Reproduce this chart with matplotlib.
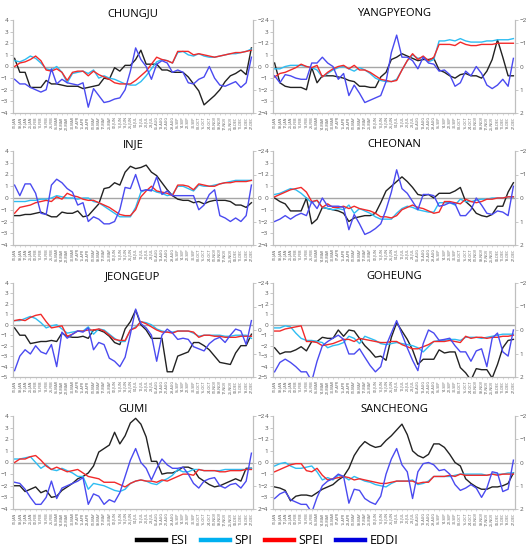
import numpy as np
import matplotlib
matplotlib.use('Agg')
import matplotlib.pyplot as plt
from matplotlib.lines import Line2D

plt.rcParams['font.family'] = ['Open Sans', 'DejaVu Sans']

# 8-day periods (one year)
DATES = ['01-JAN', '09-JAN', '17-JAN', '25-JAN', '02-FEB', '10-FEB', '18-FEB', '26-FEB',
         '06-MAR', '14-MAR', '22-MAR', '30-MAR', '07-APR', '15-APR', '23-APR', '01-MAY',
         '09-MAY', '17-MAY', '25-MAY', '02-JUN', '10-JUN', '18-JUN', '26-JUN', '04-JUL',
         '12-JUL', '20-JUL', '28-JUL', '05-AUG', '13-AUG', '21-AUG', '29-AUG', '06-SEP',
         '14-SEP', '22-SEP', '30-SEP', '08-OCT', '16-OCT', '24-OCT', '01-NOV', '09-NOV',
         '17-NOV', '25-NOV', '03-DEC', '11-DEC', '19-DEC', '27-DEC']

# ----------------------------------------------------------------------
# values. ESI/SPI/SPEI on the left axis,
# EDDI on the right (inverted) axis
CHUNGJU_ESI = [0.7, -0.5, -0.5, -1.8, -1.8, -1.8, -1.2, -1.5, -1.5, -1.6,
               -1.7, -1.7, -1.7, -1.9, -1.8, -1.7, -1.6, -1.0, -1.1, -0.1,
               -0.4, 0.1, 0.1, 0.6, 1.4, 0.2, 0.2, 0.2, -0.3, -0.3,
               -0.5, -0.5, -0.5, -0.9, -1.5, -2.1, -3.3, -2.9, -2.5, -2.0,
               -1.3, -0.8, -0.6, -0.3, -0.7, 1.6]
CHUNGJU_SPI = [0.5, 0.4, 0.6, 0.9, 0.7, 0.3, -0.2, -0.3, 0.0, -0.5,
               -1.4, -0.6, -0.5, -0.4, -0.6, -0.3, -1.0, -0.8, -1.0, -1.1,
               -1.3, -1.5, -1.6, -1.6, -1.3, -0.8, -0.2, 0.4, 0.6, 0.5,
               0.3, 1.2, 1.3, 1.0, 0.9, 1.1, 0.9, 0.8, 0.8, 0.9,
               1.0, 1.1, 1.1, 1.2, 1.3, 1.5]
CHUNGJU_SPEI = [0.0, 0.3, 0.4, 0.6, 0.9, 0.5, -0.3, -0.4, -0.2, -0.5,
                -1.2, -0.5, -0.4, -0.4, -0.8, -0.4, -0.7, -0.9, -1.1, -1.4,
                -1.5, -1.5, -1.5, -1.2, -0.8, -0.4, 0.2, 0.8, 0.6, 0.5,
                0.3, 1.3, 1.3, 1.3, 1.0, 1.1, 1.0, 0.9, 0.8, 0.9,
                1.0, 1.1, 1.2, 1.2, 1.3, 1.4]
CHUNGJU_EDDI = [0.55, 0.75, 0.75, 0.9, 1.0, 1.1, 1.0, 0.1, 0.75, 0.55,
                0.7, 0.75, 0.8, 0.7, 1.75, 0.95, 1.25, 1.55, 1.5, 1.4,
                1.35, 1.0, 0.2, -0.8, -0.3, 0.0, 0.55, -0.1, -0.25, -0.15,
                0.25, 0.15, 0.25, 0.7, 0.75, 0.55, 0.45, 0.0, 0.5, 0.8,
                0.85, 0.75, 0.65, 0.9, 0.7, -0.4]

YANGPYEONG_ESI = [0.3, -1.4, -1.7, -1.8, -1.8, -1.8, -2.0, -0.1, -1.4, -0.8,
                  -0.8, -0.8, -0.9, -1.0, -1.2, -1.3, -1.7, -1.7, -1.8, -1.8,
                  -0.9, -0.5, 0.6, 0.8, 1.1, 0.9, 0.7, 0.5, 0.6, 0.6,
                  0.7, -0.3, -0.5, -0.8, -1.0, -0.7, -0.6, -0.8, -0.8, -1.0,
                  -0.4, 0.6, 2.3, 0.8, -0.8, -0.8]
YANGPYEONG_SPI = [-0.2, -0.2, 0.0, 0.1, 0.1, 0.1, 0.0, -0.1, -0.3, -0.9,
                  -0.6, -0.3, -0.1, 0.0, -0.2, -0.4, -0.1, -0.3, -0.6, -1.0,
                  -1.2, -1.3, -1.3, -1.1, -0.3, 0.5, 1.0, 0.7, 0.8, 0.4,
                  0.6, 2.2, 2.2, 2.3, 2.2, 2.4, 2.2, 2.1, 2.1, 2.1,
                  2.2, 2.2, 2.3, 2.3, 2.3, 2.4]
YANGPYEONG_SPEI = [-0.9, -0.6, -0.5, -0.3, -0.1, 0.2, 0.0, -0.1, 0.1, -0.9,
                   -0.5, -0.2, 0.0, 0.1, -0.2, 0.1, -0.3, -0.3, -0.5, -0.8,
                   -1.1, -1.2, -1.3, -1.2, -0.3, 0.5, 1.1, 0.6, 0.9, 0.5,
                   0.8, 1.9, 1.9, 1.9, 1.8, 2.1, 1.9, 1.8, 1.8, 1.9,
                   1.9, 1.9, 2.0, 2.0, 2.0, 2.0]
YANGPYEONG_EDDI = [0.4, 0.7, 0.35, 0.4, 0.5, 0.55, 0.55, -0.15, -0.15, -0.4,
                   -0.15, 0.0, 0.55, 0.3, 1.25, 0.8, 1.15, 1.55, 1.45, 1.35,
                   1.25, 0.65, -0.6, -1.35, -0.4, -0.4, -0.25, 0.1, -0.4, -0.15,
                   -0.1, 0.2, 0.15, 0.35, 0.85, 0.7, 0.2, 0.4, 0.0, 0.3,
                   0.8, 0.95, 0.8, 0.55, 0.85, -0.35]

INJE_ESI = [-1.5, -1.5, -1.4, -1.4, -1.3, -1.2, -1.4, -1.6, -1.6, -1.2,
            -1.3, -1.3, -1.1, -1.6, -1.5, -1.0, -0.5, 0.8, 0.9, 1.3,
            1.1, 2.2, 2.7, 2.5, 2.6, 2.8, 2.2, 1.9, 1.3, 0.7,
            0.2, -0.1, -0.2, -0.2, -0.4, -0.3, -0.5, -0.3, -0.2, -0.2,
            -0.2, -0.3, -0.6, -0.6, -0.8, -0.4]
INJE_SPI = [-0.3, -0.3, -0.3, -0.2, -0.2, -0.1, -0.1, 0.0, 0.2, 0.1,
            0.0, 0.0, -0.1, 0.0, 0.0, -0.3, -0.4, -0.7, -1.0, -1.3,
            -1.6, -1.6, -1.6, -0.8, 0.5, 0.7, 0.7, 0.5, 0.4, 0.2,
            0.3, 1.0, 1.0, 0.8, 0.6, 1.1, 1.0, 1.0, 1.1, 1.2,
            1.3, 1.4, 1.5, 1.5, 1.5, 1.5]
INJE_SPEI = [-1.3, -0.8, -0.7, -0.6, -0.4, -0.3, -0.2, -0.3, 0.1, -0.1,
             0.4, 0.2, 0.1, -0.1, -0.2, -0.2, -0.4, -0.6, -0.8, -1.1,
             -1.4, -1.5, -1.5, -1.0, 0.1, 0.6, 1.0, 0.6, 0.5, 0.4,
             0.2, 1.1, 1.1, 1.0, 0.7, 1.2, 1.1, 1.0, 1.0, 1.2,
             1.3, 1.3, 1.4, 1.4, 1.4, 1.5]
INJE_EDDI = [-0.55, -0.1, -0.6, -0.6, -0.2, 0.65, 0.7, -0.55, -0.8, -0.65,
             -0.4, -0.25, 0.3, 0.2, 1.0, 0.8, 0.9, 1.1, 1.1, 1.0,
             0.5, -0.45, -0.4, -1.0, -0.3, -0.35, -0.3, -0.9, -0.15, -0.3,
             -0.1, -0.1, -0.1, -0.1, -0.1, 0.5, 0.3, -0.15, -0.35, 0.75,
             0.85, 1.0, 0.85, 1.0, 0.75, -0.55]

CHEONAN_ESI = [0.0, -0.3, -0.5, -1.1, -1.1, -1.1, 0.0, -2.2, -1.8, -0.8,
               -0.9, -1.0, -1.1, -1.3, -2.0, -1.7, -1.6, -1.5, -1.5, -1.3,
               -0.4, 0.6, 1.0, 1.4, 1.8, 1.4, 0.9, 0.3, 0.2, 0.3,
               0.0, 0.4, 0.4, 0.4, 0.6, 0.9, -0.3, -0.7, -1.3, -1.5,
               -1.6, -1.4, -0.7, -0.7, 0.5, 1.3]
CHEONAN_SPI = [0.3, 0.4, 0.6, 0.8, 0.7, 0.4, 0.0, -0.4, -0.2, -0.8,
               -0.9, -1.0, -0.9, -1.0, -0.6, -1.3, -0.9, -1.1, -1.3, -1.6,
               -1.8, -1.8, -1.8, -1.3, -0.9, -0.7, -0.8, -1.0, -1.1, -1.2,
               -1.2, -0.4, -0.4, -0.4, -0.6, -0.1, -0.3, -0.3, -0.2, -0.1,
               -0.1, 0.0, 0.0, 0.0, 0.1, 0.1]
CHEONAN_SPEI = [0.1, 0.3, 0.5, 0.7, 0.8, 0.9, 0.5, -0.3, -0.2, -0.8,
                -0.5, -0.8, -0.8, -0.7, -0.9, -0.7, -0.9, -1.0, -1.1, -1.3,
                -1.6, -1.6, -1.7, -1.5, -1.0, -0.8, -0.6, -0.8, -0.9, -1.1,
                -1.3, -1.2, -0.3, -0.3, -0.4, -0.5, -0.1, -0.3, -0.4, -0.3,
                -0.1, -0.1, 0.0, 0.0, 0.1, 0.1]
CHEONAN_EDDI = [1.0, 0.9, 0.75, 0.9, 0.75, 0.65, 0.75, 0.15, 0.45, 0.0,
                0.35, 0.35, 0.35, 0.4, 1.35, 0.7, 1.1, 1.55, 1.45, 1.3,
                1.1, 0.5, -0.25, -1.2, -0.4, -0.2, 0.15, 0.5, -0.15, -0.15,
                -0.1, 0.35, 0.3, 0.2, 0.25, 0.75, 0.75, 0.5, 0.0, 0.3,
                0.65, 0.7, 0.55, 0.6, 0.75, -0.5]

JEONGEUP_ESI = [-0.3, -1.0, -1.0, -1.8, -1.7, -1.6, -1.6, -1.5, -1.6, -0.8,
                -1.1, -1.2, -1.2, -1.1, -1.3, -0.5, -0.5, -0.7, -1.1, -1.7,
                -1.9, -0.4, 0.3, 1.4, 0.0, -0.5, -1.3, -1.3, -1.3, -4.5,
                -4.5, -3.0, -2.8, -2.6, -1.7, -1.7, -2.0, -2.4, -3.0, -3.6,
                -3.7, -3.8, -2.7, -2.0, -2.0, -0.9]
JEONGEUP_SPI = [0.4, 0.4, 0.6, 0.8, 0.6, 0.2, -0.3, -0.1, 0.0, -0.4,
                -0.8, -0.7, -0.6, -0.6, -0.2, -0.9, -0.4, -0.5, -0.9, -1.3,
                -1.6, -1.6, -0.5, -0.2, 0.3, 0.2, 0.0, -0.4, -0.6, -0.7,
                -0.7, -0.6, -0.6, -0.6, -0.8, -1.1, -1.0, -1.0, -1.0, -1.0,
                -1.1, -1.1, -1.0, -1.0, -1.0, -1.3]
JEONGEUP_SPEI = [0.4, 0.5, 0.4, 0.7, 0.9, 1.0, 0.3, -0.3, -0.2, -0.1,
                 -1.1, -0.9, -0.6, -0.6, -0.5, -0.5, -0.4, -0.6, -1.0, -1.4,
                 -1.5, -1.5, -0.5, -0.3, 0.3, 0.1, -0.2, -0.5, -0.7, -0.7,
                 -0.8, -0.6, -0.6, -0.6, -0.7, -1.2, -1.0, -1.0, -1.1, -1.1,
                 -1.2, -1.2, -1.2, -1.1, -1.1, -1.1]
JEONGEUP_EDDI = [1.73, 1.11, 0.84, 1.02, 0.67, 0.93, 1.02, 0.62, 1.56, 0.09,
                 0.35, 0.18, 0.04, 0.09, -0.09, 0.84, 0.53, 0.62, 1.2, 1.33,
                 1.56, 1.16, 0.18, -0.89, -0.27, -0.09, 0.22, 1.33, 0.22, -0.04,
                 0.13, 0.4, 0.35, 0.4, 0.71, 0.8, 0.89, 0.58, 0.4, 0.31,
                 0.53, 0.22, -0.04, 0.04, 0.62, -0.4]

GOHEUNG_ESI = [-2.2, -2.8, -2.6, -2.6, -2.4, -2.1, -2.5, -1.6, -1.6, -1.2,
               -1.3, -1.3, -0.5, -1.1, -0.5, -0.6, -1.3, -2.0, -2.5, -3.1,
               -3.0, -3.4, -1.2, 0.2, -0.6, -1.4, -2.4, -3.8, -3.3, -3.3,
               -3.3, -2.4, -2.7, -2.6, -2.6, -4.1, -4.6, -5.3, -4.2, -4.3,
               -4.3, -5.1, -3.8, -2.2, -1.5, -1.4]
GOHEUNG_SPI = [-0.3, -0.3, -0.1, -0.2, -0.8, -1.3, -1.5, -1.5, -1.6, -1.7,
               -2.2, -2.0, -1.9, -1.7, -1.1, -1.3, -1.8, -1.1, -1.3, -1.5,
               -1.8, -1.9, -1.8, -1.7, -1.8, -1.9, -2.0, -2.2, -2.6, -2.1,
               -1.6, -1.5, -1.5, -1.4, -1.4, -1.5, -1.2, -1.2, -1.2, -1.3,
               -1.2, -1.1, -1.0, -0.9, -0.9, -0.9]
GOHEUNG_SPEI = [-0.6, -0.6, -0.4, -0.3, -0.2, -0.1, -1.6, -1.6, -1.7, -2.0,
                -1.9, -1.8, -1.6, -1.4, -1.4, -1.6, -1.3, -1.4, -1.5, -1.6,
                -1.7, -1.7, -1.6, -1.6, -1.9, -2.1, -2.3, -2.3, -2.1, -1.9,
                -1.6, -1.6, -1.6, -1.5, -1.6, -1.7, -1.1, -1.3, -1.2, -1.2,
                -1.3, -1.2, -1.2, -1.1, -1.1, -1.0]
GOHEUNG_EDDI = [1.78, 1.38, 1.24, 1.38, 1.56, 1.78, 1.78, 2.18, 1.33, 0.67,
                0.49, 0.35, 0.22, 0.4, 1.02, 1.02, 0.8, 1.16, 1.51, 1.78,
                1.56, 0.67, 0.13, -0.4, 0.18, 0.76, 1.29, 1.73, 0.58, 0.0,
                0.13, 0.44, 0.4, 0.35, 0.67, 0.93, 0.93, 1.33, 0.89, 0.8,
                1.56, 0.35, 0.13, 0.93, 1.11, 0.0]

GUMI_ESI = [-2.0, -2.0, -2.5, -2.3, -2.1, -2.6, -2.4, -3.0, -2.9, -2.4,
            -2.1, -1.8, -1.4, -1.2, -0.9, -0.3, 0.9, 1.2, 1.5, 2.6,
            1.6, 2.3, 3.4, 3.8, 3.3, 2.2, 0.1, 0.1, -1.0, -0.9,
            -0.9, -0.7, -0.4, -0.4, -0.6, -1.3, -1.6, -1.9, -2.1, -2.0,
            -1.8, -1.6, -1.4, -1.6, -0.5, -0.5]
GUMI_SPI = [0.3, 0.3, 0.4, 0.5, 0.0, -0.5, -0.2, -0.6, -0.7, -0.5,
            -0.7, -0.9, -1.2, -1.2, -2.3, -1.8, -1.9, -2.0, -2.2, -2.4,
            -2.5, -2.3, -1.8, -1.6, -1.5, -1.6, -1.8, -1.9, -1.6, -1.4,
            -1.1, -0.6, -0.8, -0.8, -0.6, -0.6, -0.7, -0.7, -0.7, -0.7,
            -0.6, -0.6, -0.6, -0.6, -0.6, -0.5]
GUMI_SPEI = [0.0, 0.3, 0.3, 0.5, 0.6, 0.2, -0.3, -0.6, -0.4, -0.6,
             -0.8, -0.7, -0.6, -0.9, -1.2, -1.3, -1.4, -1.7, -1.7, -1.7,
             -1.9, -2.1, -1.8, -1.6, -1.5, -1.6, -1.6, -1.7, -1.5, -1.6,
             -1.4, -1.2, -1.0, -1.0, -1.1, -0.6, -0.7, -0.7, -0.7, -0.8,
             -0.8, -0.7, -0.7, -0.7, -0.6, -0.6]
GUMI_EDDI = [0.85, 0.9, 1.15, 1.5, 1.8, 1.8, 1.5, 0.8, 1.55, 1.1,
             1.0, 0.9, 0.8, 0.65, 1.8, 1.35, 1.45, 1.8, 1.6, 1.7,
             1.3, 0.6, -0.1, -0.6, 0.0, 0.25, 0.75, 0.25, -0.15, 0.1,
             0.25, 0.25, 0.2, 0.5, 0.9, 1.1, 0.8, 0.7, 0.65, 1.0,
             1.1, 0.95, 0.9, 1.1, 0.8, -0.4]

SANCHEONG_ESI = [-2.1, -2.2, -2.4, -3.3, -2.9, -2.8, -2.8, -2.9, -2.6, -2.3,
                 -2.1, -1.9, -1.5, -1.2, -0.5, 0.6, 1.3, 1.8, 1.5, 1.3,
                 1.4, 1.9, 2.3, 2.8, 3.3, 2.4, 1.0, 0.6, 0.4, 0.7,
                 1.6, 1.6, 1.3, 0.7, 0.0, -0.3, -1.4, -1.8, -2.1, -2.3,
                 -2.3, -2.1, -2.1, -2.0, -1.8, -0.9]
SANCHEONG_SPI = [-0.3, -0.1, 0.0, -0.3, -0.5, -0.5, -0.4, -0.3, -0.8, -1.5,
                 -1.3, -1.5, -1.1, -1.2, -1.5, -1.2, -1.4, -1.6, -1.7, -1.9,
                 -2.0, -2.1, -1.8, -1.6, -1.6, -1.6, -1.5, -1.9, -1.8, -1.6,
                 -1.2, -1.2, -1.2, -1.2, -1.1, -1.0, -1.0, -1.0, -1.0, -1.0,
                 -1.1, -1.0, -1.0, -1.0, -0.9, -0.9]
SANCHEONG_SPEI = [-0.8, -0.6, -0.4, -0.2, -0.1, -0.1, -0.7, -0.8, -0.5, -1.1,
                  -1.5, -1.4, -1.3, -1.2, -1.3, -1.5, -1.4, -1.5, -1.6, -1.7,
                  -1.8, -1.8, -1.7, -1.6, -1.6, -1.6, -1.6, -1.8, -1.7, -1.7,
                  -1.2, -1.2, -1.2, -1.1, -1.2, -1.0, -1.1, -1.1, -1.1, -1.1,
                  -1.1, -1.0, -1.1, -1.0, -1.0, -1.0]
SANCHEONG_EDDI = [1.55, 1.35, 1.25, 1.6, 1.7, 1.8, 1.8, 2.15, 1.5, 1.0,
                  0.8, 0.7, 0.5, 0.6, 1.75, 1.15, 1.2, 1.55, 1.7, 1.8,
                  1.45, 0.5, -0.15, -0.6, 0.1, 0.4, 1.55, 0.4, 0.05, 0.0,
                  0.1, 0.35, 0.3, 0.5, 0.95, 1.2, 1.1, 0.95, 1.1, 1.5,
                  1.1, 0.4, 0.45, 1.25, 1.15, -0.1]

STATIONS = [
    ('CHUNGJU', CHUNGJU_ESI, CHUNGJU_SPI, CHUNGJU_SPEI, CHUNGJU_EDDI),
    ('YANGPYEONG', YANGPYEONG_ESI, YANGPYEONG_SPI, YANGPYEONG_SPEI, YANGPYEONG_EDDI),
    ('INJE', INJE_ESI, INJE_SPI, INJE_SPEI, INJE_EDDI),
    ('CHEONAN', CHEONAN_ESI, CHEONAN_SPI, CHEONAN_SPEI, CHEONAN_EDDI),
    ('JEONGEUP', JEONGEUP_ESI, JEONGEUP_SPI, JEONGEUP_SPEI, JEONGEUP_EDDI),
    ('GOHEUNG', GOHEUNG_ESI, GOHEUNG_SPI, GOHEUNG_SPEI, GOHEUNG_EDDI),
    ('GUMI', GUMI_ESI, GUMI_SPI, GUMI_SPEI, GUMI_EDDI),
    ('SANCHEONG', SANCHEONG_ESI, SANCHEONG_SPI, SANCHEONG_SPEI, SANCHEONG_EDDI),
]

# ----------------------------------------------------------------------
W, H = 529, 551
C_ESI = '#222222'
C_SPI = '#2ebdf2'
C_SPEI = '#f22a2a'
C_EDDI = '#4a4af0'
GREY = '#a6a6a6'
TXT = '#595959'

# plot boxes in pixels (left, right) / (top, bottom)
COLS = [(13, 253), (273, 515)]
ROWS = [(20, 113), (151, 245), (283, 377), (416, 509)]
LOW_LIMIT = {'JEONGEUP': -5, 'GOHEUNG': -5}

fig = plt.figure(figsize=(W / 100, H / 100), dpi=100)


def pixel_axes(left, right, top, bottom):
    return fig.add_axes([left / W, 1 - bottom / H,
                         (right - left) / W, (bottom - top) / H])


for k, (name, esi, spi, spei, eddi) in enumerate(STATIONS):
    r, c = divmod(k, 2)
    ax = pixel_axes(COLS[c][0], COLS[c][1], ROWS[r][0], ROWS[r][1])
    ax2 = ax.twinx()
    x = np.arange(len(DATES))
    lo = LOW_LIMIT.get(name, -4)

    ax.axhline(0, color=GREY, lw=1.0, zorder=1)
    ax.plot(x, esi, color=C_ESI, lw=1.0, zorder=3)
    ax.plot(x, spi, color=C_SPI, lw=1.0, zorder=3)
    ax.plot(x, spei, color=C_SPEI, lw=1.0, zorder=4)
    ax2.plot(x, eddi, color=C_EDDI, lw=1.0)

    ax.set_xlim(-0.3, len(DATES) - 0.7)
    ax.set_ylim(lo, 4)
    ax2.set_ylim(2, -2)
    ax.set_yticks(range(lo, 5))
    ax2.set_yticks([-2, -1, 0, 1, 2])
    ax.set_xticks(x)
    ax.set_xticklabels(DATES, rotation=90, fontsize=2.6, color=TXT)

    for a in (ax, ax2):
        for s in a.spines.values():
            s.set_color('#bfbfbf')
            s.set_linewidth(0.8)
        a.spines['top'].set_visible(False)
        a.tick_params(axis='y', labelsize=4.6, labelcolor=TXT, colors='#bfbfbf',
                      length=2, width=0.6, pad=1.5)
        a.tick_params(axis='y', labelcolor=TXT)
    ax.tick_params(axis='x', length=1.5, width=0.4, colors='#bfbfbf', pad=1)
    ax.tick_params(axis='x', labelcolor=TXT)

    ax.set_title(name, fontsize=8, pad=3)

handles = [Line2D([], [], color='black', lw=3.2),
           Line2D([], [], color='#00b0f0', lw=3.2),
           Line2D([], [], color='#ff0000', lw=3.2),
           Line2D([], [], color='#0000dd', lw=3.2)]
fig.legend(handles, ['ESI', 'SPI', 'SPEI', 'EDDI'], loc='center',
           bbox_to_anchor=(268 / W, 1 - 541 / H), ncol=4, frameon=False,
           fontsize=9, handlelength=2.3, handletextpad=0.4, columnspacing=1.0)

fig.savefig('out.png', dpi=100)
